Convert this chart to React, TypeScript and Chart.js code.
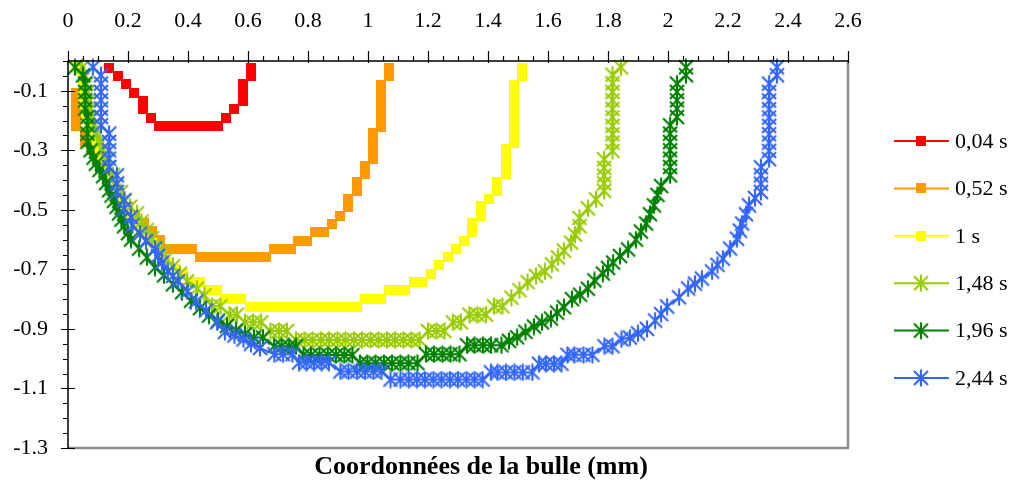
import React, { useEffect, useRef } from 'react';
import { Chart, registerables } from 'chart.js';

Chart.register(...registerables);

// ---------- data ----------
const seriesLabels = ['0,04 s', '0,52 s', '1 s', '1,48 s', '1,96 s', '2,44 s'];
const seriesColors = ['#FF0000', '#FF9900', '#FFFF00', '#99CC00', '#008000', '#3366FF'];
const seriesMarkers = ['rect', 'rect', 'rect', 'star', 'star', 'star'];
const xTicks = [0, 0.2, 0.4, 0.6, 0.8, 1, 1.2, 1.4, 1.6, 1.8, 2, 2.2, 2.4, 2.6];
const yTicks = [-1.3, -1.1, -0.9, -0.7, -0.5, -0.3, -0.1];
const xTitle = 'Coordonnées de la bulle (mm)';

const s004: [number, number][] = [
  [0.138, -0.022], [0.165, -0.05], [0.193, -0.078], [0.221, -0.106], [0.249, -0.134], [0.249, -0.162],
  [0.277, -0.19], [0.304, -0.218], [0.332, -0.218], [0.36, -0.218], [0.388, -0.218], [0.415, -0.218],
  [0.443, -0.218], [0.471, -0.218], [0.499, -0.218], [0.527, -0.19], [0.554, -0.162], [0.582, -0.134],
  [0.582, -0.106], [0.582, -0.078], [0.61, -0.05], [0.61, -0.022],
];

const s052: [number, number][] = [
  [0.027, -0.107], [0.027, -0.134], [0.027, -0.162], [0.027, -0.19], [0.027, -0.218], [0.055, -0.245],
  [0.055, -0.272], [0.08, -0.3], [0.095, -0.328], [0.11, -0.356], [0.125, -0.384], [0.14, -0.412],
  [0.16, -0.44], [0.18, -0.468], [0.2, -0.492], [0.222, -0.518], [0.252, -0.544], [0.252, -0.572],
  [0.28, -0.572], [0.28, -0.6], [0.307, -0.6], [0.307, -0.631], [0.337, -0.631], [0.364, -0.631],
  [0.39, -0.631], [0.413, -0.631], [0.44, -0.66], [0.468, -0.66], [0.496, -0.66], [0.524, -0.66],
  [0.552, -0.66], [0.58, -0.66], [0.608, -0.66], [0.636, -0.66], [0.66, -0.66], [0.687, -0.631],
  [0.715, -0.631], [0.743, -0.631], [0.767, -0.604], [0.797, -0.604], [0.823, -0.576], [0.853, -0.576],
  [0.879, -0.549], [0.907, -0.52], [0.933, -0.492], [0.933, -0.462], [0.962, -0.437], [0.962, -0.405],
  [0.99, -0.381], [0.99, -0.353], [1.018, -0.329], [1.018, -0.3], [1.018, -0.271], [1.018, -0.243],
  [1.043, -0.221], [1.043, -0.192], [1.043, -0.165], [1.043, -0.137], [1.043, -0.109], [1.043, -0.082],
  [1.07, -0.05], [1.07, -0.023],
];

const s1: [number, number][] = [
  [0.03, -0.021], [0.05, -0.048], [0.05, -0.076], [0.05, -0.104], [0.05, -0.132], [0.057, -0.16],
  [0.062, -0.188], [0.07, -0.216], [0.08, -0.244], [0.09, -0.272], [0.1, -0.3], [0.107, -0.328],
  [0.12, -0.356], [0.133, -0.384], [0.147, -0.412], [0.16, -0.44], [0.175, -0.468], [0.19, -0.496],
  [0.207, -0.524], [0.225, -0.552], [0.245, -0.578], [0.265, -0.596], [0.283, -0.612], [0.3, -0.632],
  [0.313, -0.652], [0.335, -0.676], [0.358, -0.7], [0.383, -0.716], [0.41, -0.743], [0.44, -0.743],
  [0.467, -0.77], [0.496, -0.77], [0.523, -0.798], [0.55, -0.798], [0.577, -0.798], [0.607, -0.827],
  [0.634, -0.827], [0.661, -0.827], [0.688, -0.827], [0.715, -0.827], [0.743, -0.827], [0.77, -0.827],
  [0.798, -0.827], [0.825, -0.827], [0.852, -0.827], [0.88, -0.827], [0.907, -0.827], [0.934, -0.827],
  [0.962, -0.827], [0.99, -0.798], [1.018, -0.798], [1.043, -0.798], [1.07, -0.77], [1.097, -0.77],
  [1.123, -0.77], [1.153, -0.743], [1.18, -0.743], [1.21, -0.714], [1.237, -0.686], [1.266, -0.659],
  [1.292, -0.63], [1.32, -0.603], [1.347, -0.576], [1.347, -0.545], [1.376, -0.519], [1.376, -0.488],
  [1.403, -0.463], [1.43, -0.438], [1.43, -0.408], [1.459, -0.381], [1.459, -0.352], [1.459, -0.324],
  [1.459, -0.295], [1.487, -0.274], [1.487, -0.248], [1.487, -0.219], [1.487, -0.191], [1.487, -0.163],
  [1.487, -0.135], [1.487, -0.108], [1.487, -0.082], [1.512, -0.05], [1.512, -0.023],
];

const s148: [number, number][] = [
  [0.047, -0.021], [0.055, -0.048], [0.06, -0.076], [0.065, -0.104], [0.07, -0.132], [0.075, -0.16],
  [0.08, -0.188], [0.088, -0.216], [0.097, -0.244], [0.107, -0.272], [0.117, -0.3], [0.127, -0.328],
  [0.138, -0.356], [0.15, -0.384], [0.163, -0.412], [0.177, -0.44], [0.19, -0.468], [0.207, -0.49],
  [0.23, -0.512], [0.245, -0.54], [0.262, -0.568], [0.28, -0.595], [0.3, -0.62], [0.313, -0.643],
  [0.327, -0.664], [0.35, -0.69], [0.373, -0.715], [0.397, -0.74], [0.43, -0.765], [0.455, -0.787],
  [0.48, -0.824], [0.508, -0.824], [0.538, -0.852], [0.563, -0.852], [0.59, -0.878], [0.617, -0.878],
  [0.644, -0.878], [0.675, -0.907], [0.703, -0.907], [0.73, -0.907], [0.76, -0.937], [0.788, -0.937],
  [0.815, -0.937], [0.843, -0.937], [0.87, -0.937], [0.898, -0.937], [0.925, -0.937], [0.953, -0.937],
  [0.98, -0.937], [1.008, -0.937], [1.035, -0.937], [1.063, -0.937], [1.09, -0.937], [1.118, -0.937],
  [1.145, -0.937], [1.172, -0.937], [1.2, -0.907], [1.228, -0.907], [1.255, -0.907], [1.283, -0.878],
  [1.31, -0.878], [1.338, -0.852], [1.365, -0.852], [1.393, -0.852], [1.42, -0.824], [1.448, -0.824],
  [1.478, -0.795], [1.505, -0.77], [1.532, -0.743], [1.56, -0.722], [1.59, -0.707], [1.613, -0.683],
  [1.633, -0.66], [1.653, -0.637], [1.677, -0.61], [1.69, -0.583], [1.705, -0.555], [1.705, -0.527],
  [1.733, -0.495], [1.76, -0.465], [1.787, -0.436], [1.787, -0.411], [1.787, -0.385], [1.787, -0.359],
  [1.787, -0.33], [1.815, -0.302], [1.815, -0.274], [1.815, -0.246], [1.815, -0.218], [1.815, -0.189],
  [1.815, -0.161], [1.815, -0.132], [1.815, -0.104], [1.815, -0.075], [1.815, -0.046], [1.843, -0.021],
];

const s196: [number, number][] = [
  [0.023, -0.021], [0.05, -0.048], [0.057, -0.076], [0.057, -0.104], [0.057, -0.132], [0.057, -0.16],
  [0.065, -0.188], [0.065, -0.216], [0.065, -0.244], [0.065, -0.272], [0.075, -0.3], [0.085, -0.325],
  [0.093, -0.345], [0.105, -0.366], [0.117, -0.387], [0.127, -0.41], [0.137, -0.434], [0.145, -0.452],
  [0.153, -0.47], [0.162, -0.49], [0.17, -0.512], [0.178, -0.533], [0.187, -0.555], [0.2, -0.578],
  [0.21, -0.6], [0.237, -0.63], [0.263, -0.66], [0.29, -0.694], [0.32, -0.72], [0.35, -0.75],
  [0.38, -0.777], [0.41, -0.805], [0.44, -0.83], [0.47, -0.855], [0.5, -0.872], [0.53, -0.89],
  [0.56, -0.905], [0.59, -0.918], [0.62, -0.929], [0.65, -0.929], [0.687, -0.958], [0.712, -0.958],
  [0.737, -0.958], [0.76, -0.958], [0.785, -0.988], [0.81, -0.988], [0.838, -0.988], [0.866, -0.988],
  [0.893, -0.988], [0.921, -0.988], [0.948, -0.988], [0.973, -1.015], [0.998, -1.015], [1.025, -1.015],
  [1.053, -1.015], [1.08, -1.015], [1.108, -1.015], [1.135, -1.015], [1.165, -1.015], [1.193, -0.985],
  [1.22, -0.985], [1.248, -0.985], [1.275, -0.985], [1.305, -0.985], [1.33, -0.955], [1.355, -0.955],
  [1.383, -0.955], [1.41, -0.955], [1.445, -0.955], [1.47, -0.94], [1.497, -0.928], [1.525, -0.91],
  [1.553, -0.892], [1.58, -0.878], [1.61, -0.865], [1.63, -0.845], [1.653, -0.827], [1.68, -0.8],
  [1.707, -0.785], [1.733, -0.765], [1.755, -0.737], [1.783, -0.714], [1.8, -0.695], [1.817, -0.677],
  [1.84, -0.655], [1.867, -0.633], [1.893, -0.6], [1.91, -0.573], [1.927, -0.546], [1.94, -0.515],
  [1.953, -0.485], [1.965, -0.45], [1.977, -0.42], [2.007, -0.384], [2.007, -0.356], [2.007, -0.328],
  [2.007, -0.3], [2.007, -0.272], [2.007, -0.244], [2.007, -0.216], [2.03, -0.188], [2.03, -0.16],
  [2.03, -0.132], [2.03, -0.104], [2.03, -0.076], [2.06, -0.048], [2.06, -0.021],
];

const s244: [number, number][] = [
  [0.083, -0.021], [0.11, -0.048], [0.11, -0.076], [0.11, -0.104], [0.11, -0.132], [0.11, -0.16],
  [0.11, -0.188], [0.11, -0.216], [0.137, -0.244], [0.137, -0.272], [0.137, -0.3], [0.137, -0.328],
  [0.137, -0.356], [0.163, -0.384], [0.163, -0.412], [0.163, -0.44], [0.187, -0.468], [0.187, -0.496],
  [0.21, -0.524], [0.215, -0.552], [0.24, -0.58], [0.26, -0.605], [0.29, -0.63], [0.3, -0.655],
  [0.313, -0.677], [0.333, -0.707], [0.35, -0.722], [0.367, -0.74], [0.398, -0.774], [0.427, -0.808],
  [0.46, -0.838], [0.497, -0.878], [0.523, -0.91], [0.555, -0.922], [0.585, -0.935], [0.61, -0.95],
  [0.64, -0.964], [0.688, -0.985], [0.717, -0.985], [0.748, -0.985], [0.77, -1.013], [0.795, -1.013],
  [0.82, -1.013], [0.845, -1.013], [0.87, -1.013], [0.908, -1.043], [0.935, -1.043], [0.963, -1.043],
  [0.99, -1.043], [1.018, -1.043], [1.045, -1.043], [1.075, -1.07], [1.108, -1.07], [1.136, -1.07],
  [1.163, -1.07], [1.19, -1.07], [1.218, -1.07], [1.245, -1.07], [1.273, -1.07], [1.3, -1.07],
  [1.328, -1.07], [1.355, -1.07], [1.382, -1.07], [1.41, -1.046], [1.432, -1.046], [1.46, -1.046],
  [1.488, -1.046], [1.516, -1.046], [1.548, -1.046], [1.57, -1.017], [1.593, -1.017], [1.62, -1.017],
  [1.645, -1.017], [1.665, -0.987], [1.688, -0.987], [1.718, -0.987], [1.748, -0.987], [1.788, -0.958],
  [1.815, -0.958], [1.845, -0.935], [1.873, -0.929], [1.9, -0.915], [1.93, -0.9], [1.957, -0.872],
  [1.977, -0.85], [1.997, -0.825], [2.037, -0.794], [2.067, -0.764], [2.09, -0.748], [2.113, -0.731],
  [2.147, -0.707], [2.165, -0.685], [2.183, -0.664], [2.207, -0.63], [2.23, -0.597], [2.24, -0.57],
  [2.247, -0.546], [2.26, -0.515], [2.27, -0.485], [2.29, -0.46], [2.31, -0.44], [2.31, -0.412],
  [2.31, -0.384], [2.31, -0.357], [2.337, -0.33], [2.337, -0.302], [2.337, -0.274], [2.337, -0.246],
  [2.337, -0.218], [2.337, -0.19], [2.337, -0.162], [2.337, -0.133], [2.337, -0.104], [2.337, -0.076],
  [2.363, -0.048], [2.363, -0.021],
];

const seriesData = [s004, s052, s1, s148, s196, s244];

// ---------- helpers ----------
const FONT = '"Liberation Serif", "Times New Roman", serif';

function makeStar(color: string): HTMLCanvasElement {
  const c = document.createElement('canvas');
  c.width = 18;
  c.height = 18;
  const g = c.getContext('2d')!;
  g.strokeStyle = color;
  g.lineWidth = 2.1;
  g.beginPath();
  g.moveTo(2, 2);
  g.lineTo(16, 16);
  g.moveTo(16, 2);
  g.lineTo(2, 16);
  g.moveTo(9, 0.5);
  g.lineTo(9, 17.5);
  g.stroke();
  return c;
}

function makeSquare(color: string): HTMLCanvasElement {
  const c = document.createElement('canvas');
  c.width = 10;
  c.height = 10;
  const g = c.getContext('2d')!;
  g.fillStyle = color;
  g.fillRect(0, 0, 10, 10);
  return c;
}

const fmt = (v: number) => String(Math.round(v * 10) / 10);

export default function App() {
  const ref = useRef<HTMLCanvasElement | null>(null);

  useEffect(() => {
    if (!ref.current) return;
    const marks = seriesColors.map((c, i) => (seriesMarkers[i] === 'rect' ? makeSquare(c) : makeStar(c)));

    const decor = {
      id: 'decor',
      afterDatasetsDraw(chart: any) {
        const { ctx, chartArea: a, scales } = chart;
        const xs = scales.x;
        const ys = scales.y;
        ctx.save();
        ctx.strokeStyle = '#8c8c8c';
        ctx.lineWidth = 2.5;
        ctx.beginPath();
        ctx.moveTo(a.right, a.top);
        ctx.lineTo(a.right, a.bottom);
        ctx.moveTo(a.left, a.bottom);
        ctx.lineTo(a.right + 1, a.bottom);
        ctx.stroke();
        ctx.strokeStyle = '#000';
        ctx.lineWidth = 1.5;
        ctx.beginPath();
        ctx.moveTo(a.left, a.top);
        ctx.lineTo(a.right + 1, a.top);
        ctx.moveTo(a.left, a.top);
        ctx.lineTo(a.left, a.bottom + 1);
        ctx.stroke();
        ctx.lineWidth = 1.2;
        ctx.beginPath();
        for (let k = 0; k <= 52; k++) {
          const px = Math.round(xs.getPixelForValue(k * 0.05)) + 0.5;
          const major = k % 4 === 0;
          ctx.moveTo(px, a.top - (major ? 10 : 5));
          ctx.lineTo(px, a.top + (major ? 2 : 0));
        }
        for (let k = 0; k <= 26; k++) {
          const v = -1.3 + k * 0.05;
          const py = Math.round(ys.getPixelForValue(v)) + 0.5;
          const major = k % 4 === 0;
          ctx.moveTo(a.left - (major ? 7 : 5), py);
          ctx.lineTo(a.left + (major ? 7 : 0), py);
        }
        ctx.stroke();
        ctx.restore();
      },
      afterDraw(chart: any) {
        const { ctx } = chart;
        ctx.save();
        seriesLabels.forEach((lab, i) => {
          const y = 141 + i * 47.4;
          ctx.strokeStyle = seriesColors[i];
          ctx.lineWidth = 2;
          ctx.beginPath();
          ctx.moveTo(894, y);
          ctx.lineTo(949, y);
          ctx.stroke();
          const m = marks[i];
          ctx.drawImage(m, 921 - m.width / 2, y - m.height / 2);
          ctx.fillStyle = '#000';
          ctx.font = `22px ${FONT}`;
          ctx.textAlign = 'left';
          ctx.textBaseline = 'middle';
          ctx.fillText(lab, 955, y + 1);
        });
        ctx.font = `bold 26px ${FONT}`;
        ctx.textAlign = 'center';
        ctx.textBaseline = 'alphabetic';
        ctx.fillStyle = '#000';
        ctx.fillText(xTitle, 481, 474);
        ctx.restore();
      },
    };

    const datasets = seriesData.map((pts, i) => ({
      label: seriesLabels[i],
      data: pts.map(([x, y]) => ({ x, y })),
      showLine: true,
      borderColor: seriesColors[i],
      backgroundColor: seriesColors[i],
      borderWidth: 2,
      pointStyle: marks[i] as any,
      pointRadius: 7,
      pointHoverRadius: 7,
      pointBorderWidth: 0,
      pointBackgroundColor: seriesColors[i],
      pointBorderColor: seriesColors[i],
      order: seriesData.length - 1 - i,
      clip: false as any,
      tension: 0,
    }));

    const chart = new Chart(ref.current, {
      type: 'scatter',
      data: { datasets },
      options: {
        animation: false,
        responsive: false,
        events: [],
        layout: { padding: { left: 0, top: 0, right: 169, bottom: 34 } },
        plugins: { legend: { display: false }, tooltip: { enabled: false } },
        scales: {
          x: {
            type: 'linear',
            position: 'top',
            min: 0,
            max: 2.6,
            afterBuildTicks: (s: any) => {
              s.ticks = xTicks.map((v) => ({ value: v }));
            },
            afterFit: (s: any) => {
              s.height = 61;
            },
            grid: { display: false, drawTicks: false },
            border: { display: false },
            ticks: {
              color: '#000',
              font: { family: FONT, size: 22 },
              padding: 27,
              maxRotation: 0,
              autoSkip: false,
              callback: (v: any) => fmt(Number(v)),
            },
          },
          y: {
            type: 'linear',
            min: -1.3,
            max: 0,
            afterBuildTicks: (s: any) => {
              s.ticks = yTicks.map((v) => ({ value: v }));
            },
            afterFit: (s: any) => {
              s.width = 68;
            },
            grid: { display: false, drawTicks: false },
            border: { display: false },
            ticks: {
              color: '#000',
              font: { family: FONT, size: 22 },
              padding: 20,
              autoSkip: false,
              callback: (v: any) => fmt(Number(v)),
            },
          },
        },
      },
      plugins: [decor],
    });

    return () => chart.destroy();
  }, []);

  return (
    <div style={{ position: 'fixed', left: 0, top: 0, width: 1017, height: 482, background: '#fff' }}>
      <canvas ref={ref} width={1017} height={482} style={{ display: 'block' }} />
    </div>
  );
}
